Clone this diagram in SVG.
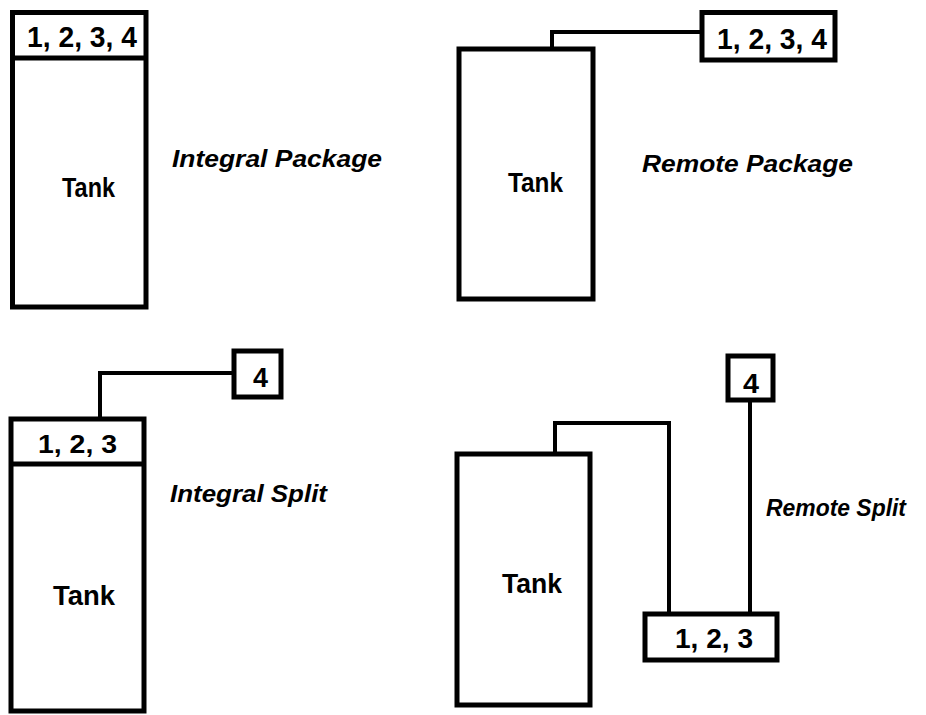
<svg xmlns="http://www.w3.org/2000/svg" width="926" height="715" viewBox="0 0 926 715">
<style>
.box{fill:#fff;stroke:#000;stroke-width:5}
.div{stroke:#000;stroke-width:5}
.wire{fill:none;stroke:#000;stroke-width:4}
.t{font-family:"Liberation Sans",Arial,sans-serif;font-weight:bold;fill:#000}
.lbl{font-family:"Liberation Sans",Arial,sans-serif;font-weight:bold;font-style:italic;fill:#000;font-size:24px}
</style>
<rect width="926" height="715" fill="#fff"/>
<g id="connectors">
<path class="wire" d="M552,49 V32 H702"/>
<path class="wire" d="M100,419 V373 H234"/>
<path class="wire" d="M555,454 V423 H669 V614"/>
<path class="wire" d="M750,400 V614"/>
</g>
<g id="tank-integral-package">
<rect class="box" x="12.5" y="12.5" width="133.5" height="294.5"/>
<line class="div" x1="12.5" y1="58" x2="146" y2="58"/>
<text class="t" x="27" y="47" font-size="29" textLength="110" lengthAdjust="spacingAndGlyphs">1, 2, 3, 4</text>
<text class="t" x="62" y="197" font-size="27" textLength="53" lengthAdjust="spacingAndGlyphs">Tank</text>
</g>
<text id="label-integral-package" class="lbl" x="172" y="167" textLength="210" lengthAdjust="spacingAndGlyphs">Integral Package</text>
<g id="tank-remote-package">
<rect class="box" x="459" y="49" width="134" height="250"/>
<text class="t" x="508" y="192" font-size="27" textLength="55" lengthAdjust="spacingAndGlyphs">Tank</text>
</g>
<g id="box-remote-package">
<rect class="box" x="702" y="12.5" width="133" height="47.5"/>
<text class="t" x="717" y="49" font-size="29" textLength="110" lengthAdjust="spacingAndGlyphs">1, 2, 3, 4</text>
</g>
<text id="label-remote-package" class="lbl" x="642" y="172" textLength="211" lengthAdjust="spacingAndGlyphs">Remote Package</text>
<g id="tank-integral-split">
<rect class="box" x="11" y="419" width="133" height="292"/>
<line class="div" x1="11" y1="464" x2="144" y2="464"/>
<text class="t" x="38" y="453" font-size="25" textLength="79" lengthAdjust="spacingAndGlyphs">1, 2, 3</text>
<text class="t" x="53" y="605" font-size="27" textLength="62" lengthAdjust="spacingAndGlyphs">Tank</text>
</g>
<g id="box-integral-split-4">
<rect class="box" x="234" y="351" width="47" height="46"/>
<text class="t" x="253" y="387" font-size="27" textLength="15" lengthAdjust="spacingAndGlyphs">4</text>
</g>
<text id="label-integral-split" class="lbl" x="170" y="502" textLength="157" lengthAdjust="spacingAndGlyphs">Integral Split</text>
<g id="tank-remote-split">
<rect class="box" x="457" y="454" width="133" height="251"/>
<text class="t" x="502" y="593" font-size="27" textLength="60" lengthAdjust="spacingAndGlyphs">Tank</text>
</g>
<g id="box-remote-split-123">
<rect class="box" x="645" y="614" width="132" height="46"/>
<text class="t" x="675" y="648" font-size="27" textLength="78" lengthAdjust="spacingAndGlyphs">1, 2, 3</text>
</g>
<g id="box-remote-split-4">
<rect class="box" x="728" y="356" width="45" height="44"/>
<text class="t" x="743" y="393" font-size="27" textLength="16" lengthAdjust="spacingAndGlyphs">4</text>
</g>
<text id="label-remote-split" class="lbl" x="766" y="516" textLength="140" lengthAdjust="spacingAndGlyphs">Remote Split</text>
</svg>
